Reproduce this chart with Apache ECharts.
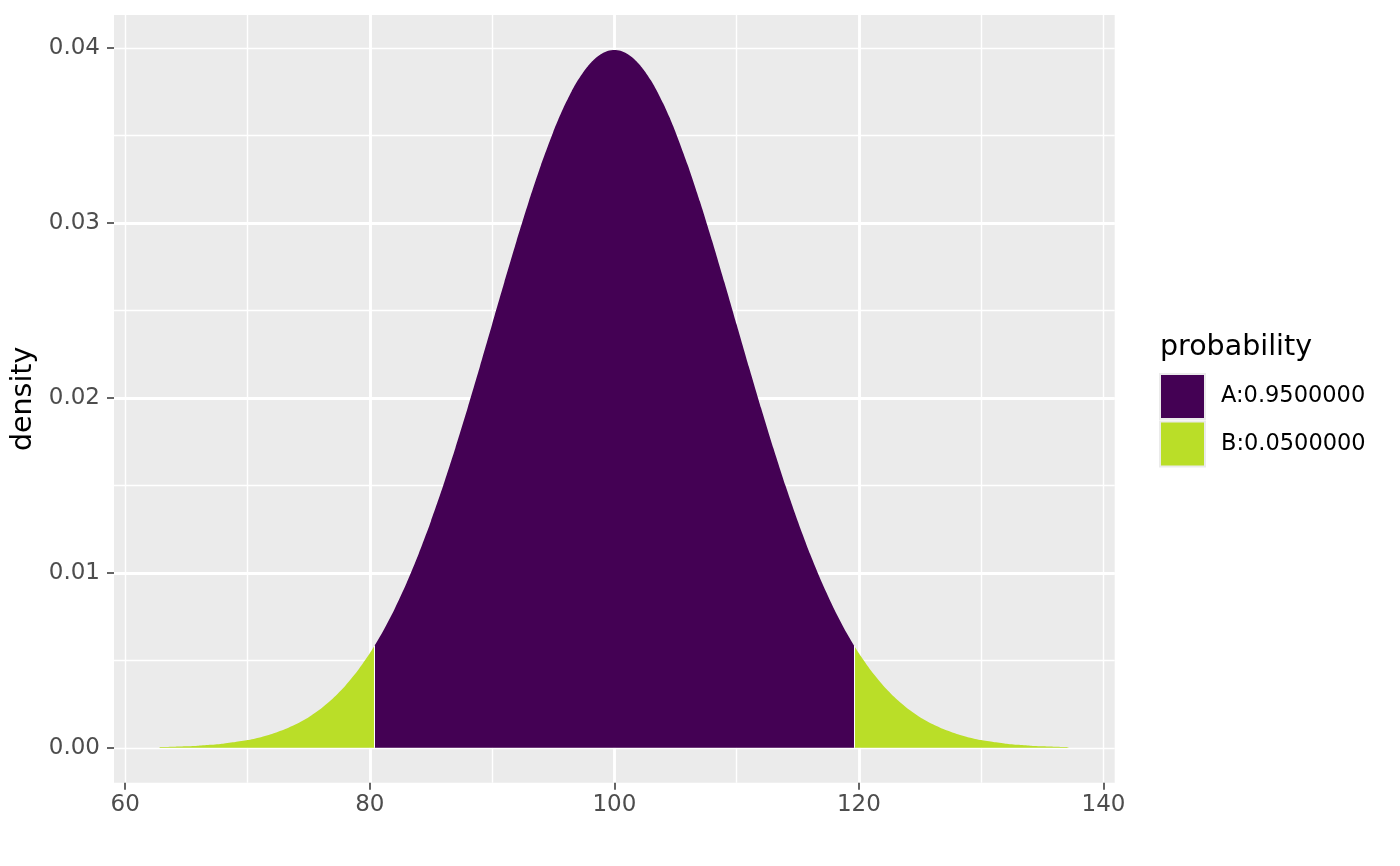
<!DOCTYPE html>
<html>
<head>
<meta charset="utf-8">
<script src="https://cdn.jsdelivr.net/npm/echarts@6/dist/echarts.min.js"></script>
<style>
html,body{margin:0;padding:0;background:#fff;}
#chart{width:1400px;height:866px;}
</style>
</head>
<body>
<div id="chart"></div>
<script>
// ---- data ----
const seriesNames = ['A:0.9500000', 'B:0.0500000'];
const xTicks = [60, 80, 100, 120, 140];
const yTicks = [0, 0.01, 0.02, 0.03, 0.04];
const cutLow = 80.4, cutHigh = 119.6, cutDensity = 0.005844;

const leftTailX = [62.81, 63, 64, 65, 66, 67, 68, 69, 70, 71, 72, 73, 74, 75, 76, 77, 78, 79, 80, 80.4];
const leftTailY = [0.0000396, 0.0000425, 0.0000612, 0.0000873, 0.000123, 0.000172, 0.000238, 0.000327, 0.000443, 0.000595, 0.000792, 0.001042, 0.001358, 0.001753, 0.002239, 0.002833, 0.003547, 0.004398, 0.005399, 0.005844];

const centerX = [80.4, 81, 82, 83, 84, 85, 86, 87, 88, 89, 90, 91, 92, 93, 94, 95, 95.5, 96, 96.5, 97, 97.5, 98, 98.5, 99, 99.5, 100,
  100.5, 101, 101.5, 102, 102.5, 103, 103.5, 104, 104.5, 105, 106, 107, 108, 109, 110, 111, 112, 113, 114, 115, 116, 117, 118, 119, 119.6];
const centerY = [0.005844, 0.006562, 0.007895, 0.009405, 0.011092, 0.012952, 0.014973, 0.017137, 0.019419, 0.021785, 0.024197, 0.026609, 0.028969, 0.031225, 0.033322, 0.035207, 0.036053, 0.036827, 0.037524, 0.038139, 0.038667, 0.039104, 0.039448, 0.039695, 0.039844, 0.039894,
  0.039844, 0.039695, 0.039448, 0.039104, 0.038667, 0.038139, 0.037524, 0.036827, 0.036053, 0.035207, 0.033322, 0.031225, 0.028969, 0.026609, 0.024197, 0.021785, 0.019419, 0.017137, 0.014973, 0.012952, 0.011092, 0.009405, 0.007895, 0.006562, 0.005844];

const rightTailX = [119.6, 120, 121, 122, 123, 124, 125, 126, 127, 128, 129, 130, 131, 132, 133, 134, 135, 136, 137, 137.19];
const rightTailY = [0.005844, 0.005399, 0.004398, 0.003547, 0.002833, 0.002239, 0.001753, 0.001358, 0.001042, 0.000792, 0.000595, 0.000443, 0.000327, 0.000238, 0.000172, 0.000123, 0.0000873, 0.0000612, 0.0000425, 0.0000396];

// ---- chart ----
const XMIN = 59.08, XMAX = 140.92, YMIN = -0.001995, YMAX = 0.04189;
const FONT = 'DejaVu Sans';
const colA = '#440154', colB = '#BADE28';
const zip = (xs, ys) => xs.map((x, i) => [x, ys[i]]);

const chart = echarts.init(document.getElementById('chart'), null, {renderer: 'canvas'});

function gridAxis(min, max, splitNumber, width, extra) {
  return Object.assign({
    type: 'value', min: min, max: max, splitNumber: splitNumber,
    axisLine: {show: false, onZero: false},
    axisTick: {show: false},
    axisLabel: {show: false},
    splitLine: {show: true, showMinLine: false, showMaxLine: false, lineStyle: {color: '#ffffff', width: width}}
  }, extra || {});
}

const option = {
  animation: false,
  backgroundColor: '#ffffff',
  textStyle: {fontFamily: FONT},
  grid: {left: 114, top: 15, width: 1000.7, height: 767.7, show: true, backgroundColor: '#EBEBEB', borderWidth: 0, containLabel: false},
  title: {
    text: 'probability', left: 1155, top: 328,
    textStyle: {fontFamily: FONT, fontSize: 28.5, fontWeight: 'normal', color: '#000000'}
  },
  legend: {
    orient: 'vertical', left: 1159, top: 373, padding: 0,
    itemWidth: 45, itemHeight: 45, itemGap: 0.5, icon: 'rect',
    data: seriesNames,
    itemStyle: {borderColor: '#EBEBEB', borderWidth: 2},
    textStyle: {fontFamily: FONT, fontSize: 22.5, color: '#000000', padding: [0, 0, 0, 11]}
  },
  xAxis: [
    gridAxis(XMIN, XMAX, 8, 1.4, {position: 'bottom'}),
    gridAxis(XMIN, XMAX, 4, 2.8, {
      position: 'bottom',
      axisTick: {show: true, customValues: xTicks, length: 7, lineStyle: {color: '#333333', width: 1.5}},
      axisLabel: {show: true, customValues: xTicks, margin: 11, fontFamily: FONT, fontSize: 23, color: '#4D4D4D',
        formatter: v => String(Math.round(v))}
    })
  ],
  yAxis: [
    gridAxis(YMIN, YMAX, 9, 1.4, {position: 'left'}),
    gridAxis(YMIN, YMAX, 4, 2.8, {
      position: 'left',
      name: 'density', nameLocation: 'middle', nameGap: 72,
      nameTextStyle: {fontFamily: FONT, fontSize: 28.5, color: '#000000'},
      axisTick: {show: true, customValues: yTicks, length: 7, lineStyle: {color: '#333333', width: 1.5}},
      axisLabel: {show: true, customValues: yTicks, margin: 14, fontFamily: FONT, fontSize: 23, color: '#4D4D4D',
        formatter: v => v.toFixed(2)}
    })
  ],
  series: [
    {
      name: seriesNames[0], type: 'line', xAxisIndex: 0, yAxisIndex: 0,
      data: zip(centerX, centerY), smooth: 0.2, symbol: 'none',
      lineStyle: {width: 0, color: colA}, itemStyle: {color: colA},
      areaStyle: {color: colA, opacity: 1}, z: 3,
      markLine: {
        silent: true, symbol: 'none', label: {show: false},
        lineStyle: {color: '#ffffff', width: 1, type: 'solid'},
        data: [
          [{coord: [cutLow, 0]}, {coord: [cutLow, cutDensity]}],
          [{coord: [cutHigh, 0]}, {coord: [cutHigh, cutDensity]}]
        ]
      }
    },
    {
      name: seriesNames[1], type: 'line', xAxisIndex: 0, yAxisIndex: 0,
      data: zip(leftTailX, leftTailY), smooth: 0.2, symbol: 'none',
      lineStyle: {width: 0, color: colB}, itemStyle: {color: colB},
      areaStyle: {color: colB, opacity: 1}, z: 3
    },
    {
      name: seriesNames[1], type: 'line', xAxisIndex: 0, yAxisIndex: 0,
      data: zip(rightTailX, rightTailY), smooth: 0.2, symbol: 'none',
      lineStyle: {width: 0, color: colB}, itemStyle: {color: colB},
      areaStyle: {color: colB, opacity: 1}, z: 3
    }
  ]
};
chart.setOption(option);
</script>
</body>
</html>
